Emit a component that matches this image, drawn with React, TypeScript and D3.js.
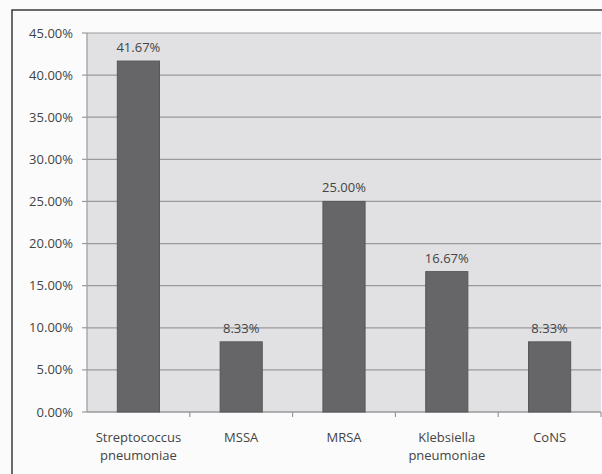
import React from "react";
import * as d3 from "d3";

const categories = [
  ["Streptococcus", "pneumoniae"],
  ["MSSA"],
  ["MRSA"],
  ["Klebsiella", "pneumoniae"],
  ["CoNS"],
];
const values = [41.67, 8.33, 25.0, 16.67, 8.33];
const yTicks = [0, 5, 10, 15, 20, 25, 30, 35, 40, 45];

const W = 602;
const H = 474;
const plot = { left: 87, right: 601, top: 33, bottom: 412 };
const font = "'Open Sans', 'DejaVu Sans', sans-serif";
const fs = 13;

export default function App() {
  const keys = categories.map((c) => c.join(" "));
  const x = d3
    .scaleBand<string>()
    .domain(keys)
    .range([plot.left, plot.right])
    .paddingInner(0.59)
    .paddingOuter(0.295);
  const band = d3.scaleBand<string>().domain(keys).range([plot.left, plot.right]);
  const y = d3.scaleLinear().domain([0, 45]).range([plot.bottom, plot.top]);

  return (
    <svg
      width={W}
      height={H}
      style={{ position: "absolute", left: 0, top: 0, background: "#fbfbfb" }}
    >
      {/* outer frame */}
      <rect x={12} y={10} width={W} height={H} fill="#fbfbfb" stroke="#3a3a3a" strokeWidth={1.5} />
      {/* plot area */}
      <rect
        x={plot.left}
        y={plot.top}
        width={plot.right - plot.left}
        height={plot.bottom - plot.top}
        fill="#e1e1e3"
      />
      {yTicks.map((t) => (
        <g key={t}>
          <line x1={plot.left} x2={plot.right} y1={y(t)} y2={y(t)} stroke="#9a9a9c" strokeWidth={1.2} />
          <line x1={plot.left - 5} x2={plot.left} y1={y(t)} y2={y(t)} stroke="#9a9a9c" strokeWidth={1.2} />
          <text
            x={73}
            y={y(t)}
            dy="0.35em"
            textAnchor="end"
            fontFamily={font}
            fontSize={fs}
            fill="#444"
          >
            {t.toFixed(2) + "%"}
          </text>
        </g>
      ))}
      {/* axes */}
      <line x1={plot.left} x2={plot.left} y1={plot.top} y2={plot.bottom} stroke="#9a9a9c" strokeWidth={1.2} />
      <line x1={plot.left} x2={plot.right} y1={plot.bottom} y2={plot.bottom} stroke="#9a9a9c" strokeWidth={1.2} />
      {keys.map((k) => (
        <line
          key={"tick" + k}
          x1={(band(k) as number) + band.bandwidth()}
          x2={(band(k) as number) + band.bandwidth()}
          y1={plot.bottom}
          y2={plot.bottom + 5}
          stroke="#9a9a9c"
          strokeWidth={1.2}
        />
      ))}
      {values.map((v, i) => {
        const k = keys[i];
        const bx = x(k) as number;
        return (
          <g key={k}>
            <rect
              x={bx}
              y={y(v)}
              width={x.bandwidth()}
              height={plot.bottom - y(v)}
              fill="#666668"
              stroke="#58585a"
              strokeWidth={1}
            />
            <text
              x={bx + x.bandwidth() / 2}
              y={y(v) - 9}
              textAnchor="middle"
              fontFamily={font}
              fontSize={fs}
              fill="#444"
            >
              {v.toFixed(2) + "%"}
            </text>
          </g>
        );
      })}
      {categories.map((lines, i) => {
        const k = keys[i];
        const cx = (band(k) as number) + band.bandwidth() / 2;
        return (
          <text
            key={"cat" + k}
            x={cx}
            y={442}
            textAnchor="middle"
            fontFamily={font}
            fontSize={fs}
            fill="#444"
          >
            {lines.map((l, j) => (
              <tspan key={j} x={cx} dy={j === 0 ? 0 : 18}>
                {l}
              </tspan>
            ))}
          </text>
        );
      })}
    </svg>
  );
}
